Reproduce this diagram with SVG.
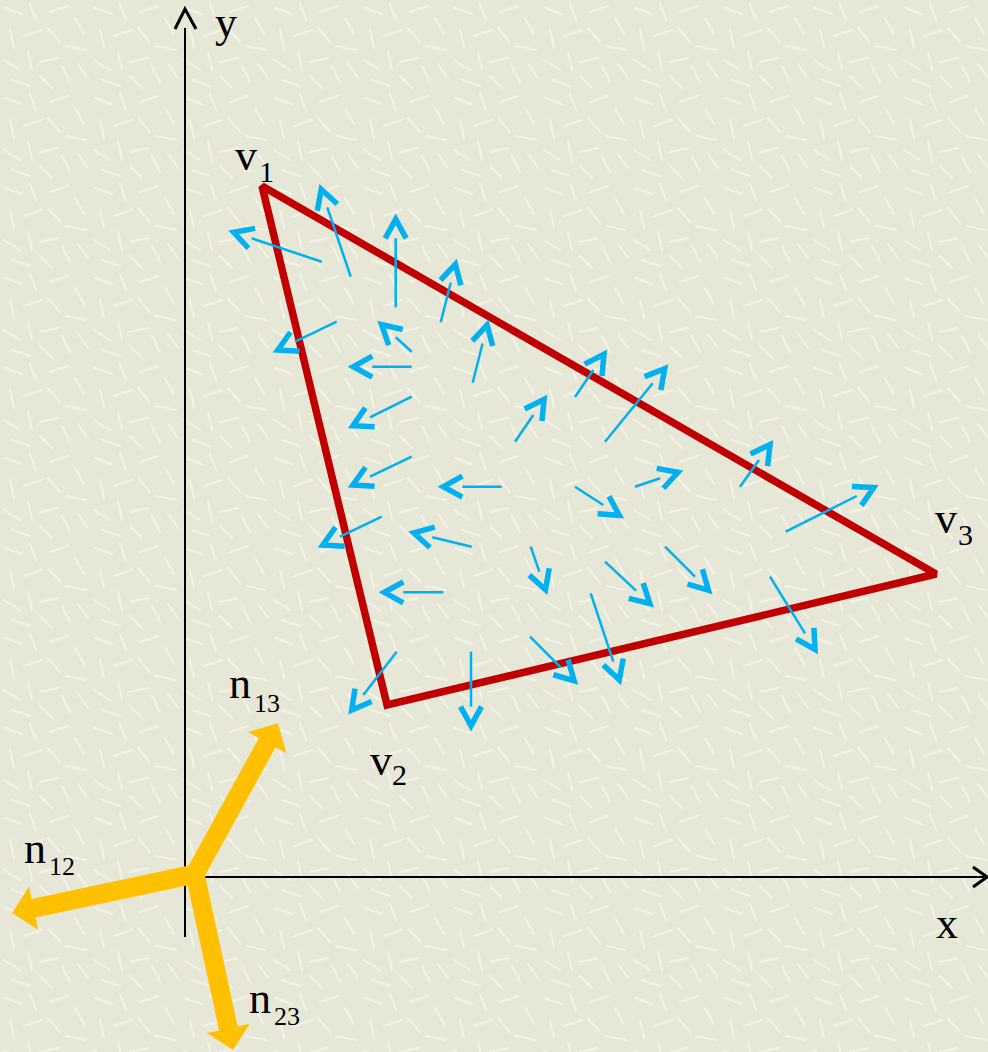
<svg xmlns="http://www.w3.org/2000/svg" width="988" height="1052" viewBox="0 0 988 1052">
  <defs>
    <pattern id="paper" width="90" height="90" patternUnits="userSpaceOnUse">
      <rect width="90" height="90" fill="#e7e7d8"/>
      <g stroke="#f5f5ea" stroke-width="2" stroke-linecap="round" opacity="0.85">
        <line x1="5" y1="8" x2="22" y2="14"/>
        <line x1="30" y1="4" x2="36" y2="20"/>
        <line x1="50" y1="12" x2="68" y2="6"/>
        <line x1="75" y1="18" x2="84" y2="34"/>
        <line x1="10" y1="30" x2="14" y2="48"/>
        <line x1="24" y1="36" x2="42" y2="30"/>
        <line x1="48" y1="28" x2="60" y2="42"/>
        <line x1="66" y1="46" x2="86" y2="50"/>
        <line x1="4" y1="60" x2="20" y2="70"/>
        <line x1="28" y1="52" x2="32" y2="70"/>
        <line x1="40" y1="62" x2="58" y2="58"/>
        <line x1="62" y1="66" x2="70" y2="82"/>
        <line x1="78" y1="64" x2="88" y2="78"/>
        <line x1="12" y1="80" x2="30" y2="86"/>
        <line x1="40" y1="76" x2="52" y2="88"/>
      </g>
    </pattern>
    <marker id="chev" markerUnits="userSpaceOnUse" markerWidth="40" markerHeight="40" refX="0" refY="0" orient="auto" overflow="visible">
      <path d="M0,-10.5 L19,0 L0,10.5" fill="none" stroke="#00b0f0" stroke-width="5.5"/>
    </marker>
    <style>
      .ax { stroke: #000; stroke-width: 2; fill: none; }
      .axh { stroke: #000; stroke-width: 3; fill: none; }
      .tri { stroke: #c00000; stroke-width: 7.5; fill: none; stroke-linejoin: miter; stroke-miterlimit: 2; }
      .vec line { stroke: #00b0f0; stroke-width: 2.5; marker-end: url(#chev); }
      .nrm { fill: #ffc000; }
      .lbl { font-family: "Liberation Serif", "Times New Roman", serif; fill: #000; }
    </style>
  </defs>

  <rect width="988" height="1052" fill="url(#paper)"/>

  <g id="axes">
    <line class="ax" x1="185" y1="28" x2="185" y2="937"/>
    <path class="axh" d="M175,29 L185,9 L196,29"/>
    <line class="ax" x1="185" y1="877" x2="984" y2="877"/>
    <path class="axh" d="M973,867 L987,877 L973,887"/>
    <text class="lbl" x="215" y="37" font-size="44">y</text>
    <text class="lbl" x="936" y="938" font-size="44">x</text>
  </g>

  <g id="triangle">
    <polygon class="tri" points="262,186 387,705 936,574"/>
  </g>

  <g id="vectors" class="vec">
    <line x1="321.7" y1="261.7" x2="251.7" y2="238.3"/>
    <line x1="350.7" y1="276.7" x2="327.3" y2="207.3"/>
    <line x1="395.7" y1="307.3" x2="395.7" y2="238.3"/>
    <line x1="440.7" y1="322.3" x2="450.7" y2="282.7"/>
    <line x1="336.7" y1="321.7" x2="295" y2="341.7"/>
    <line x1="411.7" y1="351.7" x2="395.7" y2="337.3"/>
    <line x1="411.7" y1="366.7" x2="372.3" y2="366.7"/>
    <line x1="411.7" y1="396.7" x2="370" y2="417.3"/>
    <line x1="411.7" y1="456.7" x2="370" y2="476.7"/>
    <line x1="381.7" y1="516.7" x2="340" y2="536.7"/>
    <line x1="501.7" y1="486.7" x2="462.3" y2="486.7"/>
    <line x1="471.7" y1="546.7" x2="432.3" y2="537.3"/>
    <line x1="443.3" y1="592.3" x2="403.3" y2="592.3"/>
    <line x1="472.7" y1="382.7" x2="482.5" y2="343.5"/>
    <line x1="515" y1="441.7" x2="533.3" y2="415"/>
    <line x1="575" y1="397" x2="593.3" y2="370"/>
    <line x1="605" y1="441.7" x2="652.7" y2="383.3"/>
    <line x1="575" y1="486.7" x2="603.3" y2="505"/>
    <line x1="530.7" y1="546.7" x2="539.3" y2="571.7"/>
    <line x1="605" y1="561.7" x2="636" y2="590.7"/>
    <line x1="590.7" y1="593.3" x2="613.3" y2="661.7"/>
    <line x1="635" y1="486.7" x2="660" y2="478.3"/>
    <line x1="740" y1="486.7" x2="759" y2="460"/>
    <line x1="785.7" y1="531.7" x2="856.7" y2="496"/>
    <line x1="665" y1="546.7" x2="695" y2="576.7"/>
    <line x1="770" y1="576.7" x2="805" y2="633.3"/>
    <line x1="396.7" y1="651.7" x2="363.3" y2="695"/>
    <line x1="471" y1="651.7" x2="471" y2="706.7"/>
    <line x1="530" y1="636.7" x2="560.7" y2="667.3"/>
  </g>

  <g id="normals">
    <path class="nrm" transform="translate(195,874) rotate(-61.2)" d="M-9,-9.5 H150 V-22 L172,0 L150,22 V9.5 H-9 Z"/>
    <path class="nrm" transform="translate(195,874) rotate(168)" d="M-9,-9.5 H165 V-22 L187,0 L165,22 V9.5 H-9 Z"/>
    <path class="nrm" transform="translate(195,874) rotate(77.8)" d="M-9,-9.5 H158 V-22 L180,0 L158,22 V9.5 H-9 Z"/>
  </g>

  <g id="labels" class="lbl">
    <text x="235" y="170" font-size="44">v</text>
    <text x="259" y="182" font-size="30">1</text>
    <text x="370" y="775" font-size="44">v</text>
    <text x="392" y="785" font-size="30">2</text>
    <text x="935" y="533" font-size="44">v</text>
    <text x="958" y="545" font-size="30">3</text>
    <text x="229" y="698" font-size="44">n</text>
    <text x="254" y="712" font-size="26">13</text>
    <text x="24" y="863" font-size="44">n</text>
    <text x="49" y="875" font-size="26">12</text>
    <text x="249" y="1013" font-size="44">n</text>
    <text x="274" y="1025" font-size="26">23</text>
  </g>
</svg>
